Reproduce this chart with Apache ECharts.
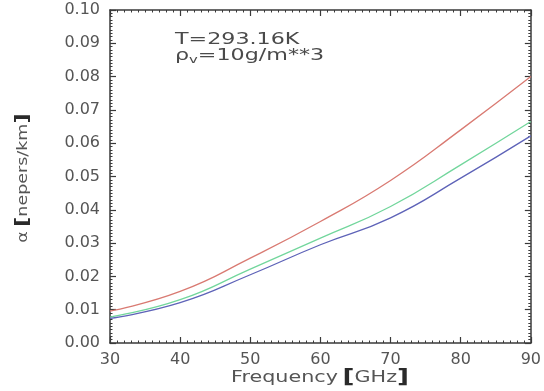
<!DOCTYPE html>
<html>
<head>
<meta charset="utf-8">
<script src="https://cdn.jsdelivr.net/npm/echarts@6/dist/echarts.min.js"></script>
<style>
  html, body { margin: 0; padding: 0; background: #fff; }
  #chart { width: 544px; height: 391px; }
</style>
</head>
<body>
<div id="chart"></div>
<script>
// Frequency grid (GHz)
const frequencies = [30, 40, 50, 60, 70, 80, 90];
// Absorption coefficient (nepers/km) for the three models
const alphaRed   = [0.0096, 0.0155, 0.0255, 0.0365, 0.0488, 0.0640, 0.0800];
const alphaGreen = [0.0078, 0.0130, 0.0222, 0.0315, 0.0410, 0.0535, 0.0665];
const alphaBlue  = [0.0074, 0.0121, 0.0205, 0.0295, 0.0376, 0.0495, 0.0622];
// Y tick values
const yTicks = [0.00, 0.01, 0.02, 0.03, 0.04, 0.05, 0.06, 0.07, 0.08, 0.09, 0.10];

const axisColor = '#3a3a3a';
const labelColor = '#555';
const fontFam = '"DejaVu Sans", sans-serif';

function pairs(ys) { return frequencies.map((f, i) => [f, ys[i]]); }

function frameAxis(extra) {
  return Object.assign({
    axisLine: { show: true, onZero: false, lineStyle: { color: axisColor, width: 1.5 } },
    axisTick: { show: true, inside: true, length: 6, lineStyle: { color: axisColor, width: 1.2 } },
    minorTick: { show: true, splitNumber: 10, length: 2.5, lineStyle: { color: axisColor, width: 1 } },
    splitLine: { show: false }
  }, extra);
}

const titleRich = {
  t: { fill: labelColor, fontSize: 15, fontFamily: fontFam },
  b: { fill: '#2a2a2a', fontSize: 19, fontWeight: 'bold', fontFamily: fontFam }
};

const chart = echarts.init(document.getElementById('chart'), null, { renderer: 'canvas' });
chart.setOption({
  animation: false,
  backgroundColor: '#fff',
  grid: { left: 110, right: 11, top: 10, bottom: 48 },
  xAxis: [
    frameAxis({
      type: 'value', min: 30, max: 90, interval: 10, position: 'bottom',
      axisLabel: { color: labelColor, fontSize: 16, fontFamily: fontFam, margin: 9 }
    }),
    frameAxis({
      type: 'value', min: 30, max: 90, interval: 10, position: 'top',
      axisLabel: { show: false }
    })
  ],
  yAxis: [
    frameAxis({
      type: 'value', min: 0, max: 0.1, interval: 0.01, position: 'left',
      axisLabel: {
        color: labelColor, fontSize: 16, fontFamily: fontFam, margin: 10,
        formatter: v => {
          const t = yTicks.find(k => Math.abs(k - v) < 1e-9);
          return (t !== undefined ? t : v).toFixed(2);
        }
      }
    }),
    frameAxis({
      type: 'value', min: 0, max: 0.1, interval: 0.01, position: 'right',
      axisLabel: { show: false }
    })
  ],
  graphic: [
    // x-axis title
    {
      type: 'text', x: 320, y: 378, scaleX: 1.38,
      style: {
        text: '{t|Frequency} {b|[}{t|GHz}{b|]}',
        align: 'center', verticalAlign: 'middle',
        rich: titleRich
      }
    },
    // y-axis title
    {
      type: 'text', x: 23, y: 178, rotation: Math.PI / 2, scaleX: 1.25,
      style: {
        text: '{t|α} {b|[}{t|nepers/km}{b|]}',
        align: 'center', verticalAlign: 'middle',
        rich: {
          t: { fill: labelColor, fontSize: 14, fontFamily: fontFam },
          b: { fill: '#2a2a2a', fontSize: 18, fontWeight: 'bold', fontFamily: fontFam }
        }
      }
    },
    // conditions annotation
    {
      type: 'text', x: 175, y: 33, scaleX: 1.48,
      style: {
        text: 'T=293.16K',
        fill: '#4a4a4a', fontSize: 15, fontFamily: fontFam
      }
    },
    {
      type: 'text', x: 175, y: 48, scaleX: 1.48,
      style: {
        text: '{r|ρ}{s|v}{r|=10g/m**3}',
        rich: {
          r: { fill: '#4a4a4a', fontSize: 15, fontFamily: fontFam },
          s: { fill: '#4a4a4a', fontSize: 10, fontFamily: fontFam, verticalAlign: 'bottom', padding: [7, 0, 0, 0] }
        }
      }
    }
  ],
  series: [
    { name: 'red', type: 'line', data: pairs(alphaRed), smooth: true, symbol: 'none',
      lineStyle: { color: '#d97a72', width: 1.3 } },
    { name: 'green', type: 'line', data: pairs(alphaGreen), smooth: true, symbol: 'none',
      lineStyle: { color: '#72d69c', width: 1.3 } },
    { name: 'blue', type: 'line', data: pairs(alphaBlue), smooth: true, symbol: 'none',
      lineStyle: { color: '#5e63b8', width: 1.3 } }
  ]
});
</script>
</body>
</html>
